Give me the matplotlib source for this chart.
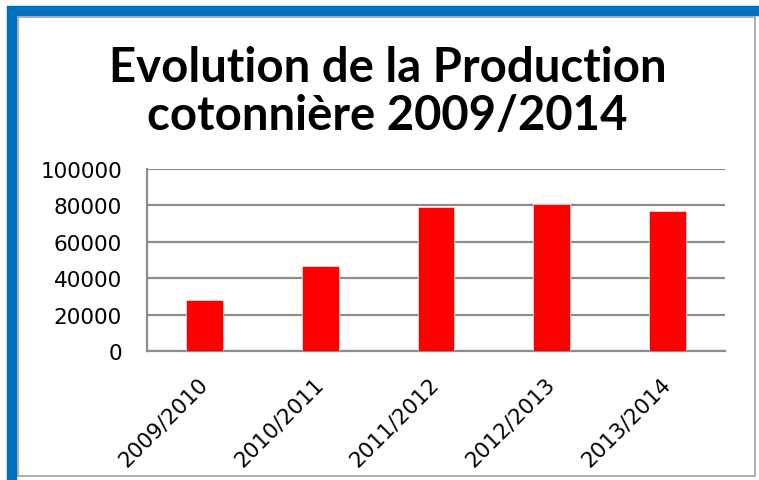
import matplotlib.pyplot as plt
from matplotlib.patches import Rectangle

campagnes = ['2009/2010', '2010/2011', '2011/2012', '2012/2013', '2013/2014']
production = [28000, 46700, 79000, 81000, 77000]
yticks = [0, 20000, 40000, 60000, 80000, 100000]

plt.rcParams['font.family'] = ['DejaVu Sans']

fig = plt.figure(figsize=(7.59, 4.81), dpi=100)
ax = fig.add_axes([147 / 759, 129 / 481, 578 / 759, 182 / 481])

ax.bar(range(len(campagnes)), production, width=0.32, color='#ff0000',
       edgecolor='#ffd0d0', linewidth=0.6, zorder=3)
ax.set_xlim(-0.5, len(campagnes) - 0.5)
ax.set_ylim(0, 100000)
ax.set_yticks(yticks)
ax.set_yticklabels([str(v) for v in yticks], fontsize=15.5)
ax.set_xticks(range(len(campagnes)))
ax.set_xticklabels(campagnes, rotation=45, ha='right', va='center',
                   rotation_mode='anchor', fontsize=15.5)
ax.tick_params(axis='x', length=0, pad=21)
ax.tick_params(axis='y', length=0, pad=18)
ax.yaxis.grid(True, color='#8c8c8c', linewidth=1.6, zorder=0)
for side in ['top', 'right']:
    ax.spines[side].set_visible(False)
ax.spines['left'].set_color('#8c8c8c')
ax.spines['left'].set_linewidth(1.6)
ax.spines['bottom'].set_color('#8c8c8c')
ax.spines['bottom'].set_linewidth(1.6)

fig.text(0.5105, 0.8295, 'Evolution de la Production', ha='center',
         va='baseline', fontsize=34, fontweight='bold', family='Lato')
fig.text(0.5105, 0.7297, 'cotonnière 2009/2014', ha='center',
         va='baseline', fontsize=34, fontweight='bold', family='Lato')

# cadre bleu + liseré gris
fig.patches.append(Rectangle((12 / 759, -2 / 481), 750 / 759, 471 / 481,
                             transform=fig.transFigure, fill=False,
                             edgecolor='#0070c0', linewidth=7.5))
fig.patches.append(Rectangle((18 / 759, 4 / 481), 737 / 759, 459 / 481,
                             transform=fig.transFigure, fill=False,
                             edgecolor='#a0a0a0', linewidth=1.2))

fig.savefig('out.png', dpi=100)
